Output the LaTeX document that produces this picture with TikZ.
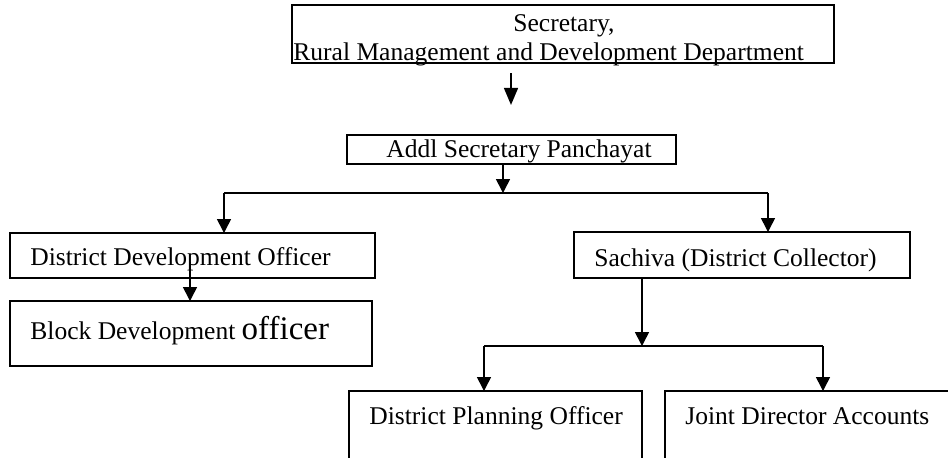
\documentclass[tikz,border=0pt]{standalone}
\usepackage{fontspec}
\setmainfont{Liberation Serif}
\usetikzlibrary{arrows.meta,fit}
\begin{document}
\begin{tikzpicture}[x=0.47pt,y=-0.47pt,
  box/.style={draw,line width=0.9pt,inner sep=0pt,outer sep=0pt},
  lbl/.style={anchor=base west,inner sep=0pt,font=\fontsize{12}{14}\selectfont},
  conn/.style={line width=0.75pt,-{Triangle[length=6.5pt,width=6.5pt]}},
  plain/.style={line width=0.75pt}]
\useasboundingbox (0,0) rectangle (948,457);
% boxes
\node[box,line width=1.3pt,fit={(292,5) (834,63)}] (sec) {};
\node[box,fit={(347,135) (676,164)}] (addl) {};
\node[box,fit={(10,233) (375,278)}] (ddo) {};
\node[box,fit={(574,232) (910,278)}] (sach) {};
\node[box,fit={(10,301) (372,366)}] (bdo) {};
\node[box,fit={(349,391) (642,475)}] (dpo) {};
\node[box,fit={(665,391) (965,475)}] (jda) {};
% texts
\node[lbl] (tsec1) at (513,31) {Secretary,};
\node[lbl] (tsec2) at (293,60) {Rural Management and Development Department};
\node[lbl] (taddl) at (386,157) {Addl Secretary Panchayat};
\node[lbl] (tddo) at (30,265) {District Development Officer};
\node[lbl] (tsach) at (594,266) {Sachiva (District Collector)};
\node[lbl] (tbdo) at (30,339) {Block Development {\fontsize{15.5}{18}\selectfont officer}};
\node[lbl] (tdpo) at (369,424) {District Planning Officer};
\node[lbl] (tjda) at (685,424) {Joint Director Accounts};
% connectors
\coordinate (t1) at (511,73);
\coordinate (t2) at (511,105);
\draw[line width=0.9pt,-{Triangle[length=8pt,width=6.5pt]}] (t1) -- (t2);
\coordinate (j1) at (503,193);
\coordinate (hl) at (224,193);
\coordinate (hr) at (768,193);
\draw[conn] (addl.south -| j1) -- (j1);
\draw[plain] (hl) -- (hr);
\draw[conn] (hl) -- (hl |- ddo.north);
\draw[conn] (hr) -- (hr |- sach.north);
\coordinate (d1) at (190,262);
\draw[conn] (d1) -- (d1 |- bdo.north);
\coordinate (j2) at (642,346);
\coordinate (bl) at (484,346);
\coordinate (br) at (823,346);
\draw[conn] (sach.south -| j2) -- (j2);
\draw[plain] (bl) -- (br);
\draw[conn] (bl) -- (bl |- dpo.north);
\draw[conn] (br) -- (br |- jda.north);
\end{tikzpicture}
\end{document}
